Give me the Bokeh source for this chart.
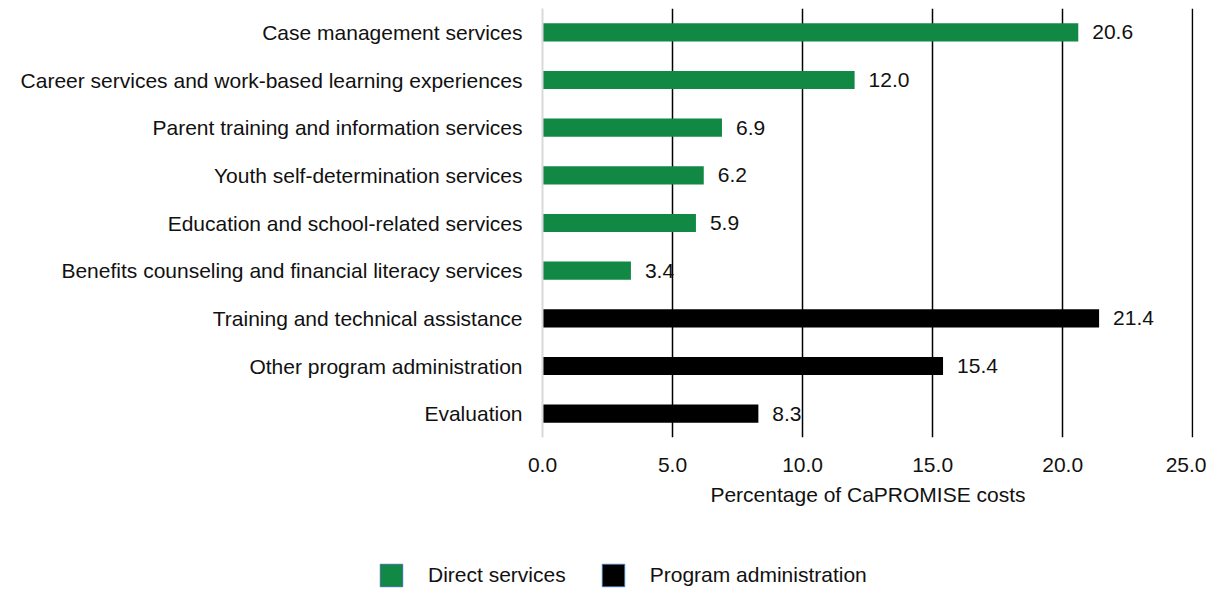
from bokeh.plotting import figure
from bokeh.layouts import column, row
from bokeh.models import (ColumnDataSource, FactorRange, Range1d, FixedTicker, NumeralTickFormatter,
                          LabelSet, Legend, LegendItem, Spacer)
from bokeh.core.properties import value
from bokeh.embed import file_html
from bokeh.resources import INLINE

direct_categories = [
    "Case management services",
    "Career services and work-based learning experiences",
    "Parent training and information services",
    "Youth self-determination services",
    "Education and school-related services",
    "Benefits counseling and financial literacy services",
]
direct_values = [20.6, 12.0, 6.9, 6.2, 5.9, 3.4]

admin_categories = [
    "Training and technical assistance",
    "Other program administration",
    "Evaluation",
]
admin_values = [21.4, 15.4, 8.3]

x_ticks = [0, 5, 10, 15, 20, 25]
x_title = "Percentage of CaPROMISE costs"
legend_labels = ["Direct services", "Program administration"]

GREEN = "#128845"
FONT = "Liberation Sans"
FS = "21px"
TXT = "#111111"

all_cats = direct_categories + admin_categories

p = figure(width=1206, height=520, output_backend="svg", toolbar_location=None,
           y_range=FactorRange(factors=list(reversed(all_cats))),
           x_range=Range1d(0, 25.03),
           min_border_left=542, min_border_right=13, min_border_top=8, min_border_bottom=83)

src_d = ColumnDataSource(dict(cat=direct_categories, val=direct_values,
                              lab=[f"{v:.1f}" for v in direct_values]))
src_a = ColumnDataSource(dict(cat=admin_categories, val=admin_values,
                              lab=[f"{v:.1f}" for v in admin_values]))

rd = p.hbar(y="cat", right="val", left=0, height=0.38, source=src_d, color=GREEN, line_color=None)
ra = p.hbar(y="cat", right="val", left=0, height=0.38, source=src_a, color="#000000", line_color=None)

for s in (src_d, src_a):
    p.add_layout(LabelSet(x="val", y="cat", text="lab", source=s, x_offset=14, y_offset=0,
                          text_font=value(FONT), text_font_size=value(FS), text_color=TXT,
                          text_baseline="middle", text_align="left"))

p.outline_line_color = None
p.ygrid.grid_line_color = None
p.xgrid.ticker = FixedTicker(ticks=[t for t in x_ticks if t > 0])
p.xgrid.grid_line_color = "#000000"
p.xgrid.grid_line_width = 1.5
p.xgrid.level = "underlay"

p.xaxis.ticker = FixedTicker(ticks=x_ticks)
p.xaxis.formatter = NumeralTickFormatter(format="0.0")
p.xaxis.axis_line_color = None
p.xaxis.major_tick_line_color = None
p.xaxis.minor_tick_line_color = None
p.xaxis.major_label_text_font = FONT
p.xaxis.major_label_text_font_size = FS
p.xaxis.major_label_text_color = TXT
p.xaxis.major_label_standoff = 14
p.xaxis.axis_label = x_title
p.xaxis.axis_label_text_font = FONT
p.xaxis.axis_label_text_font_size = FS
p.xaxis.axis_label_text_font_style = "normal"
p.xaxis.axis_label_text_color = TXT
p.xaxis.axis_label_standoff = 8

p.yaxis.axis_line_color = "#d9d9d9"
p.yaxis.axis_line_width = 2
p.yaxis.major_tick_line_color = None
p.yaxis.minor_tick_line_color = None
p.yaxis.major_label_text_font = FONT
p.yaxis.major_label_text_font_size = FS
p.yaxis.major_label_text_color = TXT
p.yaxis.major_label_standoff = 14

# legend strip (hidden bar renderers, only their legend glyphs show)
q = figure(width=906, height=70, output_backend="svg", toolbar_location=None,
           x_range=Range1d(0, 25), y_range=FactorRange(factors=list(reversed(all_cats))),
           min_border_left=0, min_border_right=0, min_border_top=0, min_border_bottom=0)
q.axis.visible = False
q.grid.visible = False
q.outline_line_color = None
ld = q.hbar(y="cat", right="val", left=0, height=0.38, source=src_d,
            fill_color=GREEN, line_color="#3a6ea5", line_width=1)
la = q.hbar(y="cat", right="val", left=0, height=0.38, source=src_a,
            fill_color="#000000", line_color="#3a6ea5", line_width=1)
ld.visible = False
la.visible = False

leg = Legend(items=[LegendItem(label=legend_labels[0], renderers=[ld]),
                    LegendItem(label=legend_labels[1], renderers=[la])],
             orientation="horizontal", location=(77, 1),
             label_standoff=23, glyph_width=28, glyph_height=28, spacing=33,
             padding=0, margin=0, border_line_color=None, background_fill_alpha=0,
             label_text_font=FONT, label_text_font_size=FS, label_text_color=TXT)
q.add_layout(leg, "center")

layout = column(p, row(Spacer(width=300, height=70), q, spacing=0), spacing=0)
open("out.html", "w").write(file_html(layout, INLINE))
